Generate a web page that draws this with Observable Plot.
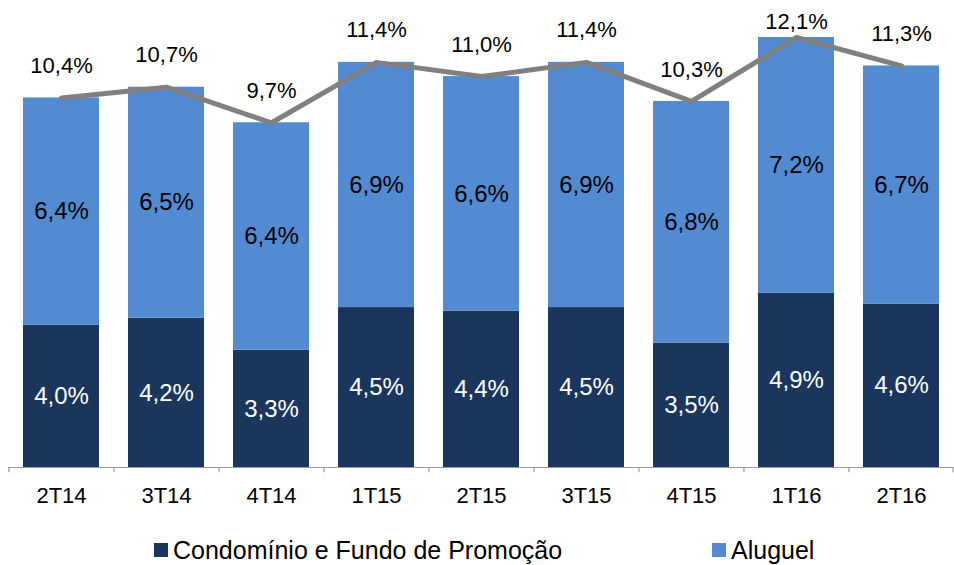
<!DOCTYPE html>
<html><head><meta charset="utf-8">
<script src="https://cdn.jsdelivr.net/npm/d3@7"></script>
<script src="https://cdn.jsdelivr.net/npm/@observablehq/plot@0.6"></script>
<style>
body{margin:0;background:#fff;font-family:"Liberation Sans",Arial,sans-serif;}
#wrap{position:relative;width:954px;height:565px;}
.legend{position:absolute;top:535px;font-size:25px;line-height:30px;color:#000;display:flex;align-items:center;white-space:nowrap;}
.sw{width:14px;height:14px;margin-right:5px;display:inline-block;}
</style></head>
<body><div id="wrap"><div id="chart"></div>
<div class="legend" style="left:154px"><span class="sw" style="background:#1a365d"></span>Condomínio e Fundo de Promoção</div>
<div class="legend" style="left:712px"><span class="sw" style="background:#538bd3"></span>Aluguel</div>
</div>
<script>
const quarters = ["2T14","3T14","4T14","1T15","2T15","3T15","4T15","1T16","2T16"];
const condominio = [4.0,4.2,3.3,4.5,4.4,4.5,3.5,4.9,4.6];
const aluguel = [6.4,6.5,6.4,6.9,6.6,6.9,6.8,7.2,6.7];
const totals = [10.4,10.7,9.7,11.4,11.0,11.4,10.3,12.1,11.3];

const fmt = v => v.toFixed(1).replace(".", ",") + "%";
const stacked = [];
quarters.forEach((q,i)=>{
  stacked.push({q, serie:"Condomínio e Fundo de Promoção", v:condominio[i]});
  stacked.push({q, serie:"Aluguel", v:aluguel[i]});
});
const segs = quarters.map((q,i)=>({q, c:condominio[i], a:aluguel[i], t:totals[i]}));
const step = 946/9;
const chart = Plot.plot({
  width:954, height:515,
  marginLeft:8, marginRight:0, marginTop:5, marginBottom:48,
  x:{domain:quarters, paddingInner:0.28, paddingOuter:0.14, label:null},
  y:{domain:[0,13], axis:null},
  color:{domain:["Condomínio e Fundo de Promoção","Aluguel"], range:["#1a365d","#538bd3"]},
  style:{fontFamily:"Liberation Sans, Arial, sans-serif", background:"#fff"},
  marks:[
    Plot.barY(stacked, {x:"q", y:"v", fill:"serie", order:["Condomínio e Fundo de Promoção","Aluguel"]}),
    Plot.ruleY([0], {stroke:"#9a9a9a", strokeWidth:1.2}),
    Plot.ruleX(quarters, {x:d=>d, dx:-step/2, y1:0, y2:-0.15, stroke:"#9a9a9a", strokeWidth:1.2}),
    Plot.ruleX([quarters[quarters.length-1]], {x:d=>d, dx:step/2-1, y1:0, y2:-0.15, stroke:"#9a9a9a", strokeWidth:1.2}),
    Plot.axisX({tickSize:0, tickPadding:20, fontSize:22, fill:"#000"}),
    Plot.text(segs, {x:"q", y:d=>d.c/2, text:d=>fmt(d.c), fill:"#fff", fontSize:24}),
    Plot.text(segs, {x:"q", y:d=>d.c + d.a/2, text:d=>fmt(d.a), fill:"#000", fontSize:24}),
    Plot.line(segs, {x:"q", y:"t", stroke:"#808080", strokeWidth:5}),
    Plot.text(segs, {x:"q", y:d=>Math.min(d.t + 0.9, 12.55), text:d=>fmt(d.t), fill:"#000", fontSize:22})
  ]
});
document.getElementById("chart").appendChild(chart);
</script></body></html>
